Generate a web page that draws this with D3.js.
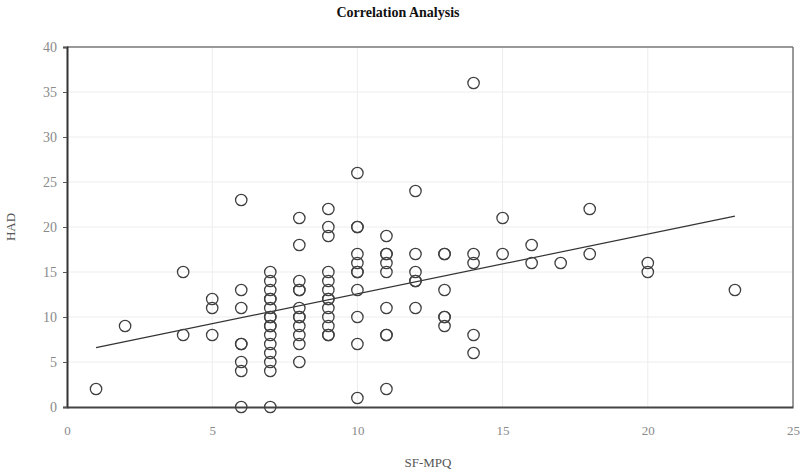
<!DOCTYPE html>
<html>
<head>
<meta charset="utf-8">
<script src="https://cdn.jsdelivr.net/npm/d3@7"></script>
<style>
  html, body { margin: 0; padding: 0; background: #fff; }
  svg { display: block; }
</style>
</head>
<body>
<script>
// ---- Data ----
const sfmpq = [
  1, 2, 4, 4, 5, 5, 5,
  6, 6, 6, 6, 6, 6, 6, 6,
  7, 7, 7, 7, 7, 7, 7, 7, 7, 7, 7, 7, 7, 7, 7, 7,
  8, 8, 8, 8, 8, 8, 8, 8, 8, 8, 8, 8,
  9, 9, 9, 9, 9, 9, 9, 9, 9, 9, 9, 9, 9,
  10, 10, 10, 10, 10, 10, 10, 10, 10, 10, 10,
  11, 11, 11, 11, 11, 11, 11, 11, 11,
  12, 12, 12, 12, 12, 12,
  13, 13, 13, 13, 13, 13,
  14, 14, 14, 14, 14,
  15, 15, 16, 16, 17, 18, 18, 20, 20, 23
];
const had = [
  2, 9, 15, 8, 12, 11, 8,
  23, 13, 11, 7, 7, 5, 4, 0,
  15, 14, 13, 12, 12, 11, 10, 10, 9, 9, 8, 7, 6, 5, 4, 0,
  21, 18, 14, 13, 13, 11, 10, 10, 9, 8, 7, 5,
  22, 20, 19, 15, 14, 13, 12, 12, 11, 10, 9, 8, 8,
  26, 20, 20, 17, 16, 15, 15, 13, 10, 7, 1,
  19, 17, 17, 16, 15, 11, 8, 8, 2,
  24, 17, 15, 14, 14, 11,
  17, 17, 13, 10, 10, 9,
  36, 17, 16, 8, 6,
  21, 17, 18, 16, 16, 22, 17, 16, 15, 13
];
// Trend line endpoints as drawn in the reference
const trendX = [1, 23];
const trendY = [6.6, 21.2];

const xTicks = [0, 5, 10, 15, 20, 25];
const yTicks = [0, 5, 10, 15, 20, 25, 30, 35, 40];

const title = "Correlation Analysis";
const xLabel = "SF-MPQ";
const yLabel = "HAD";

// ---- Drawing ----
const W = 800, H = 474;
const M = { left: 67, right: 7, top: 47, bottom: 67 };

const svg = d3.select("body").append("svg")
  .attr("width", W).attr("height", H);

const x = d3.scaleLinear().domain([0, 25]).range([M.left, W - M.right]);
const y = d3.scaleLinear().domain([0, 40]).range([H - M.bottom, M.top]);

const serif = "'Liberation Serif', 'DejaVu Serif', serif";

// gridlines
svg.append("g").selectAll("line.gy").data(yTicks.filter(d => d > 0 && d < 40)).join("line")
  .attr("x1", x(0)).attr("x2", x(25))
  .attr("y1", d => y(d)).attr("y2", d => y(d))
  .attr("stroke", "#ededed").attr("stroke-width", 1);
svg.append("g").selectAll("line.gx").data(xTicks.filter(d => d > 0 && d < 25)).join("line")
  .attr("y1", y(0)).attr("y2", y(40))
  .attr("x1", d => x(d)).attr("x2", d => x(d))
  .attr("stroke", "#ededed").attr("stroke-width", 1);

// frame: top and right (gray)
svg.append("line").attr("x1", x(0)).attr("x2", x(25)).attr("y1", y(40)).attr("y2", y(40))
  .attr("stroke", "#777").attr("stroke-width", 1.5);
svg.append("line").attr("x1", x(25)).attr("x2", x(25)).attr("y1", y(40)).attr("y2", y(0))
  .attr("stroke", "#777").attr("stroke-width", 1.5);

// y axis
const yAxis = d3.axisLeft(y).tickValues(yTicks).tickSize(4).tickPadding(6);
const gy = svg.append("g").attr("transform", `translate(${x(0)},0)`).call(yAxis);
gy.select(".domain").attr("stroke", "#333").attr("stroke-width", 2);
gy.selectAll(".tick line").attr("stroke", "#555");
gy.selectAll(".tick text").attr("fill", "#8a8a8a").style("font-family", serif).style("font-size", "14px");

// x axis
const xAxis = d3.axisBottom(x).tickValues(xTicks).tickSize(0).tickPadding(19);
const gx = svg.append("g").attr("transform", `translate(0,${y(0)})`).call(xAxis);
gx.select(".domain").attr("stroke", "#444").attr("stroke-width", 2);
gx.selectAll(".tick text").attr("fill", "#8a8a8a").style("font-family", serif).style("font-size", "13px");

// trend line
svg.append("path")
  .datum(trendX.map((d, i) => [d, trendY[i]]))
  .attr("d", d3.line().x(d => x(d[0])).y(d => y(d[1])))
  .attr("stroke", "#333").attr("stroke-width", 1.2).attr("fill", "none");

// points
svg.append("g").selectAll("circle").data(sfmpq.map((d, i) => [d, had[i]])).join("circle")
  .attr("cx", d => x(d[0])).attr("cy", d => y(d[1])).attr("r", 5.7)
  .attr("fill", "none").attr("stroke", "#404040").attr("stroke-width", 1.3);

// title
svg.append("text").attr("x", 398).attr("y", 17).attr("text-anchor", "middle")
  .style("font-family", serif).style("font-weight", "bold").style("font-size", "14px")
  .attr("fill", "#111").text(title);

// axis labels
svg.append("text").attr("x", x(12.5) - 2).attr("y", 467).attr("text-anchor", "middle")
  .style("font-family", serif).style("font-size", "13px").attr("fill", "#555").text(xLabel);
svg.append("text").attr("transform", `translate(15,${y(20)}) rotate(-90)`).attr("text-anchor", "middle")
  .style("font-family", serif).style("font-size", "13px").attr("fill", "#555").text(yLabel);
</script>
</body>
</html>
